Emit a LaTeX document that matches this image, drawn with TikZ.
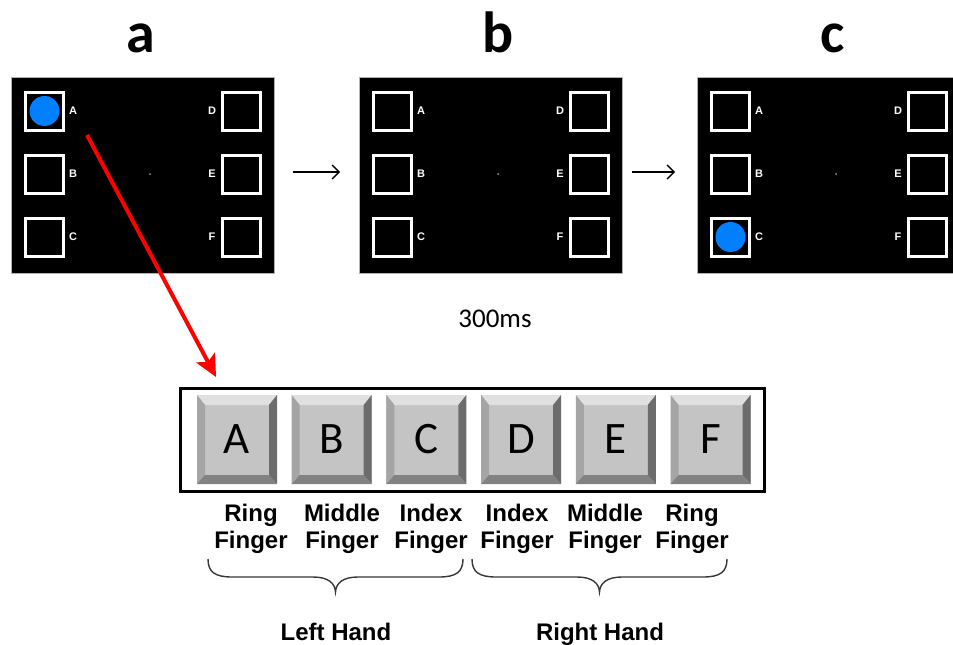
\documentclass[tikz,border=0pt]{standalone}
\usepackage{fontspec}
\setmainfont{Carlito}
\newfontfamily\arialfont{Liberation Sans}
\usetikzlibrary{arrows.meta}

\definecolor{cueblue}{RGB}{0,128,255}
\definecolor{keyface}{RGB}{196,196,196}
\definecolor{keytop}{RGB}{224,224,224}
\definecolor{keyleft}{RGB}{165,165,165}
\definecolor{keyright}{RGB}{108,108,108}
\definecolor{keybottom}{RGB}{130,130,130}
\definecolor{bracegray}{RGB}{55,55,55}

\tikzset{
  panel/.style={rectangle, fill=black, draw=gray!60, line width=0.6pt,
    minimum width=263pt, minimum height=196pt, inner sep=0pt},
  cuebox/.style={rectangle, draw=white, line width=3pt, minimum size=38pt, inner sep=0pt},
  cuelabel/.style={text=white, font=\arialfont\bfseries\fontsize{11}{11}\selectfont, inner sep=0pt},
  target/.style={circle, fill=cueblue, minimum size=30pt, inner sep=0pt},
  fixdot/.style={circle, fill=gray!80, minimum size=2pt, inner sep=0pt},
  title/.style={font=\bfseries\fontsize{58}{58}\selectfont, anchor=base, inner sep=0pt},
  flow/.style={-{Straight Barb[length=7pt,width=14pt]}, line width=1.5pt},
  cuearrow/.style={draw=red, line width=4pt, -{Stealth[length=22pt,width=21pt,inset=5pt]}},
  keyframe/.style={rectangle, draw=black, line width=3pt, minimum width=584pt,
    minimum height=103pt, inner sep=0pt},
  keycap/.style={rectangle, fill=keyface, minimum width=80pt, minimum height=89pt,
    inner sep=0pt, font=\fontsize{45}{45}\selectfont,
    path picture={
      \coordinate (kNW) at (path picture bounding box.north west);
      \coordinate (kNE) at (path picture bounding box.north east);
      \coordinate (kSW) at (path picture bounding box.south west);
      \coordinate (kSE) at (path picture bounding box.south east);
      \coordinate (iNW) at ([shift={(8pt,-10pt)}]kNW);
      \coordinate (iNE) at ([shift={(-8pt,-10pt)}]kNE);
      \coordinate (iSW) at ([shift={(8pt,9pt)}]kSW);
      \coordinate (iSE) at ([shift={(-8pt,9pt)}]kSE);
      \fill[keytop] (kNW) -- (kNE) -- (iNE) -- (iNW) -- cycle;
      \fill[keyleft] (kNW) -- (iNW) -- (iSW) -- (kSW) -- cycle;
      \fill[keyright] (kNE) -- (kSE) -- (iSE) -- (iNE) -- cycle;
      \fill[keybottom] (kSW) -- (iSW) -- (iSE) -- (kSE) -- cycle;
    }},
  fingerlab/.style={font=\arialfont\bfseries\fontsize{24}{24}\selectfont, anchor=base, inner sep=0pt},
  handbrace/.style={draw=bracegray, line width=1.4pt},
}

% one stimulus screen: #1 name, #2 left edge
\newcommand\stimpanel[2]{%
  \node[panel] (#1) at (#2+132,175.5) {};
  \foreach \k/\dx/\dy/\lx in {A/33.5/111/62, B/33.5/174/62, C/33.5/237/62,
                              D/230/111/201, E/230/174/201, F/230/237/201}{
    \node[cuebox] (#1-\k) at (#2+\dx,\dy) {};
    \node[cuelabel] (#1-l\k) at (#2+\lx,\dy) {\k};
  }
  \node[fixdot] (#1-fix) at (#2+139,174) {};
}

\begin{document}
\begin{tikzpicture}[x=1pt, y=-1pt]
\useasboundingbox (0,0) rectangle (953,645);
\clip (0,0) rectangle (953,645);

% titles
\node[title] (ta) at (141,52) {a};
\node[title] (tb) at (498,52) {b};
\node[title] (tc) at (833,52) {c};

% stimulus screens
\stimpanel{pa}{11}
\stimpanel{pb}{359}
\stimpanel{pc}{697}
\node[target] (dotA) at (pa-A) {};
\node[target] (dotC) at (pc-C) {};

% sequence arrows
\draw[flow] ([xshift=18pt,yshift=3.5pt]pa.east) -- ([xshift=-19pt,yshift=3.5pt]pb.west);
\draw[flow] ([xshift=9pt,yshift=3.5pt]pb.east) -- ([xshift=-22pt,yshift=3.5pt]pc.west);

\node[font=\fontsize{27}{27}\selectfont, anchor=base, inner sep=0pt] (delay) at (495,327) {300ms};

% response keyboard
\node[keyframe] (kb) at (472.5,440) {};
\foreach \k [count=\i from 0] in {A,B,C,D,E,F}
  \node[keycap] (key\k) at (237+94.7*\i,439.5) {\k};

% cue to key mapping
\coordinate (redtip) at (216,377);
\draw[cuearrow] ([shift={(14pt,-20pt)}]pa-lA.south) -- (redtip);

% finger labels
\foreach \x/\word/\i in {251/Ring/1, 342/Middle/2, 431/Index/3,
                         517/Index/4, 605/Middle/5, 692/Ring/6}{
  \node[fingerlab] (fa\i) at (\x,521) {\word};
  \node[fingerlab] (fb\i) at (\x,548) {Finger};
}

% hand braces
\draw[handbrace] (208,559) .. controls (208,572) and (215,577) .. (232,577)
  -- (313,577) .. controls (328,577) and (335,583) .. (335.5,592)
  .. controls (336,583) and (343,577) .. (358,577)
  -- (439,577) .. controls (456,577) and (463,572) .. (463,559);
\draw[handbrace] (472,559) .. controls (472,572) and (479,577) .. (496,577)
  -- (577,577) .. controls (592,577) and (599,583) .. (599.5,592)
  .. controls (600,583) and (607,577) .. (622,577)
  -- (703,577) .. controls (720,577) and (727,572) .. (727,559);

\node[fingerlab] (lefthand) at (336,640) {Left Hand};
\node[fingerlab] (righthand) at (600,640) {Right Hand};
\end{tikzpicture}
\end{document}
